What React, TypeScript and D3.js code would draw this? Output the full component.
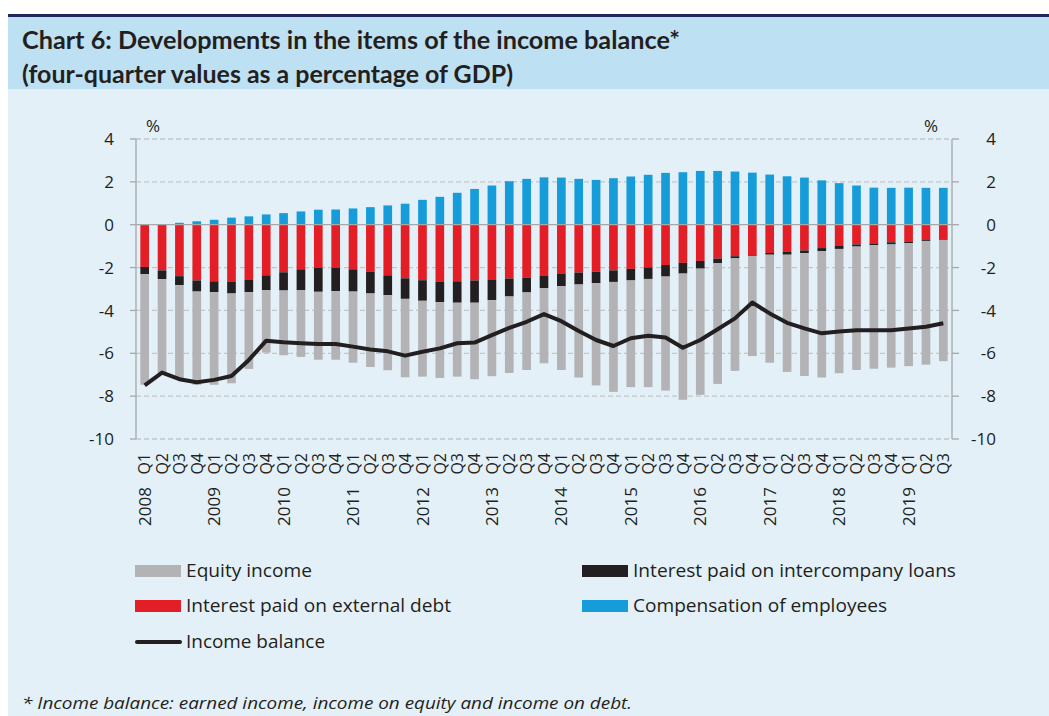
import { useEffect, useRef } from "react";
import * as d3 from "d3";

const years = ["2008", "2009", "2010", "2011", "2012", "2013", "2014", "2015", "2016", "2017", "2018", "2019"];
const quarters = ["Q1", "Q2", "Q3", "Q4"];
const categories = years.flatMap((y) => quarters.map((q) => `${y} ${q}`)).slice(0, 47);

const compensation = [
  0.0, 0.02, 0.09, 0.16, 0.23, 0.33, 0.39, 0.48, 0.54, 0.62, 0.7, 0.71, 0.76, 0.82, 0.9, 0.98,
  1.16, 1.3, 1.49, 1.67, 1.83, 2.03, 2.14, 2.21, 2.2, 2.14, 2.09, 2.17, 2.25, 2.33, 2.42, 2.45,
  2.51, 2.51, 2.48, 2.43, 2.34, 2.26, 2.2, 2.07, 1.94, 1.83, 1.73, 1.72, 1.73, 1.72, 1.72,
];
const externalDebt = [
  -1.97, -2.13, -2.4, -2.6, -2.64, -2.67, -2.58, -2.36, -2.22, -2.08, -2.02, -2.02, -2.08, -2.2, -2.36, -2.5,
  -2.59, -2.67, -2.64, -2.6, -2.58, -2.51, -2.48, -2.39, -2.3, -2.23, -2.19, -2.13, -2.06, -1.99, -1.88, -1.78,
  -1.69, -1.58, -1.47, -1.43, -1.32, -1.27, -1.2, -1.09, -0.99, -0.92, -0.87, -0.82, -0.78, -0.72, -0.68,
];
const intercompany = [
  -0.34, -0.41, -0.42, -0.52, -0.51, -0.54, -0.57, -0.7, -0.85, -0.98, -1.11, -1.08, -1.04, -1.01, -0.93, -0.96,
  -0.96, -0.94, -1.0, -1.04, -0.94, -0.84, -0.68, -0.57, -0.57, -0.56, -0.54, -0.54, -0.54, -0.54, -0.54, -0.5,
  -0.36, -0.22, -0.1, -0.03, -0.08, -0.13, -0.13, -0.15, -0.14, -0.1, -0.09, -0.1, -0.08, -0.04, -0.03,
];
const equity = [
  -5.16, -4.41, -4.38, -4.35, -4.32, -4.19, -3.58, -2.91, -3.02, -3.11, -3.17, -3.2, -3.32, -3.43, -3.5, -3.66,
  -3.54, -3.54, -3.45, -3.57, -3.55, -3.57, -3.62, -3.51, -3.91, -4.34, -4.77, -5.13, -4.98, -5.05, -5.32, -5.89,
  -5.89, -5.63, -5.25, -4.67, -5.04, -5.47, -5.73, -5.89, -5.8, -5.76, -5.76, -5.75, -5.74, -5.77, -5.66,
];
const incomeBalance = [
  -7.5, -6.9, -7.21, -7.35, -7.24, -7.06, -6.31, -5.41, -5.49, -5.53, -5.57, -5.57, -5.69, -5.82, -5.91, -6.11,
  -5.93, -5.77, -5.53, -5.5, -5.15, -4.81, -4.53, -4.17, -4.5, -4.96, -5.38, -5.66, -5.3, -5.18, -5.26, -5.74,
  -5.38, -4.88, -4.37, -3.63, -4.14, -4.58, -4.84, -5.07, -4.98, -4.93, -4.93, -4.93, -4.84, -4.76, -4.6,
];
const yTicks = [4, 2, 0, -2, -4, -6, -8, -10];

const COLORS = {
  equity: "#b3b3b6",
  intercompany: "#231f20",
  external: "#e31e26",
  compensation: "#169dd9",
};

const FONT = "'Open Sans', sans-serif";
const TEXT = "#231f20";

export default function App() {
  const svgRef = useRef<SVGSVGElement>(null);

  useEffect(() => {
    if (!svgRef.current) return;
    document.body.style.margin = "0";
    const svg = d3.select(svgRef.current);
    svg.selectAll("*").remove();

    const W = 1049;
    const H = 716;
    const plot = { left: 136, right: 952, top: 139, bottom: 439 };

    // Backgrounds
    svg.append("rect").attr("x", 0).attr("y", 0).attr("width", W).attr("height", H).attr("fill", "#ffffff");
    svg.append("rect").attr("x", 8).attr("y", 17).attr("width", W - 8).attr("height", 72).attr("fill", "#bee0f3");
    svg.append("rect").attr("x", 8).attr("y", 89).attr("width", W - 8).attr("height", H - 89).attr("fill", "#e3f0f7");
    svg.append("rect").attr("x", 8).attr("y", 14).attr("width", W - 8).attr("height", 3).attr("fill", "#1f2a5a");

    // Title
    const titleLines = [
      { text: "Chart 6: Developments in the items of the income balance*", y: 49, len: 658 },
      { text: "(four-quarter values as a percentage of GDP)", y: 83, len: 491 },
    ];
    titleLines.forEach((t) => {
      svg
        .append("text")
        .attr("x", 22)
        .attr("y", t.y)
        .attr("textLength", t.len)
        .attr("lengthAdjust", "spacingAndGlyphs")
        .style("font-family", "Lato, sans-serif")
        .style("font-weight", 700)
        .style("font-size", "24px")
        .style("fill", TEXT)
        .text(t.text);
    });

    // Scales
    const x = d3
      .scaleBand<string>()
      .domain(categories)
      .range([plot.left, plot.right])
      .paddingInner(0.5)
      .paddingOuter(0.25);
    const y = d3.scaleLinear().domain([-10, 4]).range([plot.bottom, plot.top]);

    // Grid lines
    const g = svg.append("g");
    g.selectAll("line.grid")
      .data(yTicks.filter((t) => t !== 0))
      .join("line")
      .attr("class", "grid")
      .attr("x1", plot.left)
      .attr("x2", plot.right)
      .attr("y1", (d) => y(d))
      .attr("y2", (d) => y(d))
      .attr("stroke", "#c3c6c8")
      .attr("stroke-width", 1.3)
      .attr("stroke-dasharray", "5,3");

    // Stacked bars
    const rows = categories.map((c, i) => ({
      cat: c,
      equity: equity[i],
      intercompany: intercompany[i],
      external: externalDebt[i],
      compensation: compensation[i],
    }));
    const keys = ["external", "intercompany", "equity", "compensation"];
    const stack = d3
      .stack<(typeof rows)[number]>()
      .keys(keys)
      .offset(d3.stackOffsetDiverging);
    const series = stack(rows);

    g.selectAll("g.series")
      .data(series)
      .join("g")
      .attr("class", "series")
      .attr("fill", (s) => COLORS[s.key as keyof typeof COLORS])
      .selectAll("rect")
      .data((s) => s)
      .join("rect")
      .attr("x", (d) => x(d.data.cat)!)
      .attr("width", x.bandwidth())
      .attr("y", (d) => y(Math.max(d[0], d[1])))
      .attr("height", (d) => Math.abs(y(d[0]) - y(d[1])));

    // Zero line
    g.append("line")
      .attr("x1", plot.left)
      .attr("x2", plot.right)
      .attr("y1", y(0))
      .attr("y2", y(0))
      .attr("stroke", "#a6a8aa")
      .attr("stroke-width", 1.3);

    // Axes
    const axisColor = "#a6a8aa";
    [plot.left, plot.right].forEach((ax) => {
      g.append("line")
        .attr("x1", ax)
        .attr("x2", ax)
        .attr("y1", plot.top)
        .attr("y2", plot.bottom)
        .attr("stroke", axisColor)
        .attr("stroke-width", 1.3);
    });
    g.selectAll("line.ltick")
      .data(yTicks)
      .join("line")
      .attr("class", "ltick")
      .attr("x1", plot.left - 6)
      .attr("x2", plot.left)
      .attr("y1", (d) => y(d))
      .attr("y2", (d) => y(d))
      .attr("stroke", axisColor)
      .attr("stroke-width", 1.3);
    g.selectAll("line.rtick")
      .data(yTicks)
      .join("line")
      .attr("class", "rtick")
      .attr("x1", plot.right)
      .attr("x2", plot.right + 7)
      .attr("y1", (d) => y(d))
      .attr("y2", (d) => y(d))
      .attr("stroke", axisColor)
      .attr("stroke-width", 1.3);

    g.selectAll("text.llab")
      .data(yTicks)
      .join("text")
      .attr("class", "llab")
      .attr("x", 114)
      .attr("y", (d) => y(d))
      .attr("dy", "0.36em")
      .attr("text-anchor", "end")
      .style("font-family", FONT)
      .style("font-size", "17px")
      .style("fill", TEXT)
      .text((d) => String(d));
    g.selectAll("text.rlab")
      .data(yTicks)
      .join("text")
      .attr("class", "rlab")
      .attr("x", 996)
      .attr("y", (d) => y(d))
      .attr("dy", "0.36em")
      .attr("text-anchor", "end")
      .style("font-family", FONT)
      .style("font-size", "17px")
      .style("fill", TEXT)
      .text((d) => String(d));

    // % labels
    [153, 931].forEach((px) => {
      svg
        .append("text")
        .attr("x", px)
        .attr("y", 132)
        .attr("text-anchor", "middle")
        .style("font-family", FONT)
        .style("font-size", "17px")
        .style("fill", TEXT)
        .text("%");
    });

    // X labels (quarters + years)
    const xl = svg.append("g");
    xl.selectAll("text.q")
      .data(categories)
      .join("text")
      .attr("class", "q")
      .attr("transform", (d) => `translate(${x(d)! + x.bandwidth() / 2},453) rotate(-90)`)
      .attr("dy", "0.36em")
      .attr("text-anchor", "end")
      .style("font-family", FONT)
      .style("font-size", "16px")
      .style("fill", TEXT)
      .text((d) => d.split(" ")[1]);
    xl.selectAll("text.yr")
      .data(categories.filter((d) => d.endsWith("Q1")))
      .join("text")
      .attr("class", "yr")
      .attr("transform", (d) => `translate(${x(d)! + x.bandwidth() / 2},487) rotate(-90)`)
      .attr("dy", "0.36em")
      .attr("text-anchor", "end")
      .style("font-family", FONT)
      .style("font-size", "17px")
      .style("fill", TEXT)
      .text((d) => d.split(" ")[0]);

    // Income balance line
    const line = d3
      .line<number>()
      .x((_, i) => x(categories[i])! + x.bandwidth() / 2)
      .y((d) => y(d));
    g.append("path")
      .datum(incomeBalance)
      .attr("fill", "none")
      .attr("stroke", "#231f20")
      .attr("stroke-width", 4)
      .attr("stroke-linejoin", "round")
      .attr("d", line);

    // Legend
    const legendItems = [
      { label: "Equity income", color: COLORS.equity, x: 135, y: 571, len: 126, kind: "rect" },
      { label: "Interest paid on intercompany loans", color: COLORS.intercompany, x: 582, y: 571, len: 323, kind: "rect" },
      { label: "Interest paid on external debt", color: COLORS.external, x: 135, y: 606, len: 265, kind: "rect" },
      { label: "Compensation of employees", color: COLORS.compensation, x: 582, y: 606, len: 254, kind: "rect" },
      { label: "Income balance", color: "#231f20", x: 135, y: 642, len: 139, kind: "line" },
    ];
    const legend = svg.append("g");
    legendItems.forEach((it) => {
      if (it.kind === "rect") {
        legend
          .append("rect")
          .attr("x", it.x)
          .attr("y", it.y - 6)
          .attr("width", 46)
          .attr("height", 12)
          .attr("fill", it.color);
      } else {
        legend
          .append("line")
          .attr("x1", it.x + 2)
          .attr("x2", it.x + 45)
          .attr("y1", it.y)
          .attr("y2", it.y)
          .attr("stroke", it.color)
          .attr("stroke-width", 4)
          .attr("stroke-linecap", "round");
      }
      legend
        .append("text")
        .attr("x", it.x + 51)
        .attr("y", it.y)
        .attr("dy", "0.36em")
        .attr("textLength", it.len)
        .attr("lengthAdjust", "spacingAndGlyphs")
        .style("font-family", FONT)
        .style("font-size", "18px")
        .style("fill", TEXT)
        .text(it.label);
    });

    // Footnote
    svg
      .append("text")
      .attr("x", 22)
      .attr("y", 709)
      .attr("textLength", 610)
      .attr("lengthAdjust", "spacingAndGlyphs")
      .style("font-family", FONT)
      .style("font-style", "italic")
      .style("font-size", "16px")
      .style("fill", TEXT)
      .text("* Income balance: earned income, income on equity and income on debt.");
  }, []);

  return <svg ref={svgRef} width={1049} height={716} style={{ display: "block" }}></svg>;
}
